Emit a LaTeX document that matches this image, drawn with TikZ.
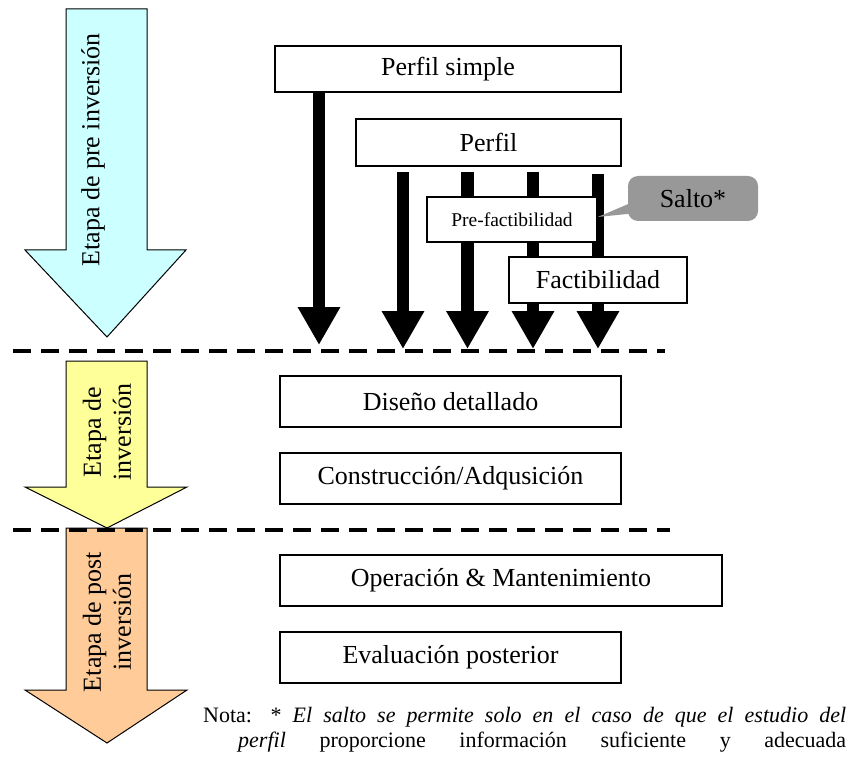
\documentclass[tikz,border=0pt]{standalone}
\usepackage{fontspec}
\setmainfont{Liberation Serif}
\usetikzlibrary{arrows.meta,backgrounds}
\definecolor{preblue}{HTML}{CCFFFF}
\definecolor{invyellow}{HTML}{FFFF99}
\definecolor{postorange}{HTML}{FFCC99}
\definecolor{saltogray}{HTML}{989898}
\begin{document}
\begin{tikzpicture}[x=1pt,y=-1pt,
  stagebox/.style={draw, line width=1.6pt, fill=white, inner sep=0pt,
    font=\fontsize{26}{30}\selectfont},
  phasearrow/.style={draw=black, line width=1pt},
  phaselabel/.style={rotate=90, align=center, inner sep=0pt,
    font=\fontsize{26}{30}\selectfont},
  flowarrow/.style={line width=12.5pt, -{Triangle[length=38pt,width=40pt]}},
  phasesep/.style={line width=4pt, dash pattern=on 18pt off 10pt},
  callout/.style={fill=saltogray, rounded corners=10pt, inner sep=0pt,
    minimum width=130pt, minimum height=45pt, font=\fontsize{26}{30}\selectfont},
  notetext/.style={anchor=base west, inner sep=0pt, font=\fontsize{22}{26}\selectfont}
]
\useasboundingbox (0,0) rectangle (855,757);

% phase arrows on the left
\draw[phasearrow, fill=preblue] (66,9) -- (147,9) -- (147,250) -- (186,250)
  -- (107,337) -- (25,250) -- (66,250) -- cycle;
\node[phaselabel] (preinv) at (93,150) {Etapa de pre inversión};

\draw[phasearrow, fill=invyellow] (66,361) -- (147,361) -- (147,487) -- (187,487)
  -- (107,528) -- (25,487) -- (66,487) -- cycle;
\node[phaselabel] (inv) at (107,432) {Etapa de\\inversión};

\draw[phasearrow, fill=postorange] (66,528) -- (147,528) -- (147,690) -- (187,690)
  -- (107,743) -- (25,690) -- (66,690) -- cycle;
\node[phaselabel] (postinv) at (107,622) {Etapa de post\\inversión};

% study boxes of the pre-investment phase
\node[stagebox, minimum width=346pt, minimum height=46pt] (ps) at (448,69) {Perfil simple};
\node[stagebox, minimum width=265pt, minimum height=47pt] (pf) at (488.5,142.5) {Perfil};
\node[stagebox, minimum width=170pt, minimum height=45pt,
      font=\fontsize{19.5}{23}\selectfont] (pre) at (512,219.5) {Pre-factibilidad};
\node[stagebox, minimum width=178pt, minimum height=46pt] (fac) at (598,280) {Factibilidad};

% arrow tips on the first separator
\coordinate (t1) at (319,345);
\coordinate (t2) at (403,349);
\coordinate (t3) at (467.5,349);
\coordinate (t4) at (533,349);
\coordinate (t5) at (598,349);

\begin{scope}[on background layer]
  \draw[flowarrow] (ps.south -| t1) -- (t1);
  \draw[flowarrow] ([yshift=-5pt]pf.south -| t2) -- (t2);
  \draw[flowarrow] ([yshift=-5pt]pf.south -| t3) -- (t3);
  \draw[flowarrow] ([yshift=-5pt]pf.south -| t4) -- (t4);
  \draw[flowarrow] ([yshift=-7pt]pf.south -| t5) -- (t5);
\end{scope}

% callout
\node[callout] (salto) at (693,198.5) {Salto*};
\fill[saltogray] ([xshift=4pt,yshift=-4pt]salto.west) -- ([yshift=2.5pt]pre.east)
  -- ([xshift=4pt,yshift=-15pt]salto.west) -- cycle;

% phase separators
\coordinate (d1a) at (13,351);
\coordinate (d1b) at (665,351);
\coordinate (d2a) at (13,530);
\coordinate (d2b) at (670,530);
\draw[phasesep] (d1a) -- (d1b);
\draw[phasesep] (d2a) -- (d2b);

% investment and post-investment boxes
\node[stagebox, minimum width=341pt, minimum height=51pt] (dis) at (450.5,401.5) {Diseño detallado};
\node[stagebox, minimum width=341pt, minimum height=51pt] (con) at (450.5,478.5) {Construcción/Adqusición};
\node[stagebox, minimum width=442pt, minimum height=51pt] (ope) at (501,580.5) {Operación \& Mantenimiento};
\node[stagebox, minimum width=341pt, minimum height=51pt] (eva) at (450.5,657.5) {Evaluación posterior};

% footnote
\node[notetext] (nota1) at (203,722)
  {\makebox[643pt][s]{Nota: * \textit{El salto se permite solo en el caso de que el estudio del}}};
\node[notetext] (nota2) at (238,747)
  {\makebox[608pt][s]{\textit{perfil} proporcione información suficiente y adecuada}};
\end{tikzpicture}
\end{document}
